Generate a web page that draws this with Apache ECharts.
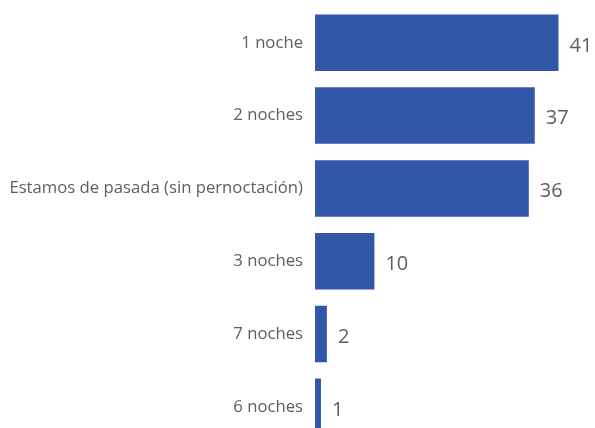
<!DOCTYPE html>
<html><head><meta charset="utf-8">
<script src="https://cdn.jsdelivr.net/npm/echarts@6/dist/echarts.min.js"></script>
<style>html,body{margin:0;padding:0;background:#fff;overflow:hidden}#c{width:595px;height:444px}</style>
</head><body><div id="c"></div>
<script>
const categories = ["1 noche", "2 noches", "Estamos de pasada (sin pernoctación)", "3 noches", "7 noches", "6 noches"];
const values = [41, 37, 36, 10, 2, 1];

const chart = echarts.init(document.getElementById('c'), null, {renderer: 'canvas'});
chart.setOption({
  animation: false,
  grid: {left: 315, right: 36.5, top: 6.4, bottom: 0.8, containLabel: false},
  xAxis: {type: 'value', min: 0, max: 41, show: false},
  yAxis: {
    type: 'category', data: categories, inverse: true,
    axisLine: {show: false}, axisTick: {show: false}, splitLine: {show: false},
    axisLabel: {margin: 12, fontSize: 16.7, color: '#605E5C', fontFamily: 'Open Sans, Noto Sans, sans-serif'}
  },
  series: [{
    type: 'bar', data: values, barWidth: 56.5,
    itemStyle: {color: '#3257A8'},
    label: {show: true, position: 'right', distance: 11, offset: [0, 3], fontSize: 20, color: '#605E5C', fontFamily: 'Open Sans, Noto Sans, sans-serif'}
  }]
});
</script></body></html>
